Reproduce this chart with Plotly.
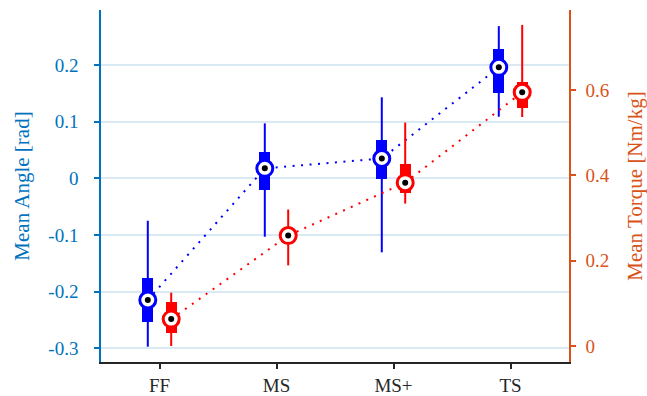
import plotly.graph_objects as go

# Conditions on the x axis
categories = ["FF", "MS", "MS+", "TS"]

# Mean joint angle [rad] per condition (left axis)
angle_median = [-0.2146, 0.0176, 0.035, 0.1958]
angle_q1 = [-0.253, -0.0206, -0.0007, 0.150]
angle_q3 = [-0.175, 0.047, 0.0675, 0.228]
angle_min = [-0.297, -0.103, -0.1305, 0.1087]
angle_max = [-0.0748, 0.097, 0.143, 0.2686]

# Mean joint torque [Nm/kg] per condition (right axis)
torque_median = [0.063, 0.259, 0.383, 0.595]
torque_q1 = [0.031, 0.245, 0.359, 0.558]
torque_q3 = [0.103, 0.272, 0.426, 0.618]
torque_min = [0.0, 0.189, 0.334, 0.537]
torque_max = [0.125, 0.320, 0.524, 0.753]

angle_ticks = [-0.3, -0.2, -0.1, 0, 0.1, 0.2]
angle_ticktext = ["-0.3", "-0.2", "-0.1", "0", "0.1", "0.2"]
torque_ticks = [0, 0.2, 0.4, 0.6]
torque_ticktext = ["0", "0.2", "0.4", "0.6"]

LEFT_COLOR = "#0072BD"
RIGHT_COLOR = "#D95319"
FONT = "Liberation Serif"

idx = list(range(len(categories)))
shift = 0.1
box_w = 0.095


def add_series(fig, med, q1, q3, lo, hi, color, dx, yaxis):
    xs = [i + dx for i in idx]
    # whiskers
    wx, wy = [], []
    for x, a, b in zip(xs, lo, hi):
        wx += [x, x, None]
        wy += [a, b, None]
    fig.add_trace(go.Scatter(x=wx, y=wy, mode="lines", yaxis=yaxis,
                             line=dict(color=color, width=2),
                             hoverinfo="skip", showlegend=False))
    # dotted line joining the medians
    fig.add_trace(go.Scatter(x=xs, y=med, mode="lines", yaxis=yaxis,
                             line=dict(color=color, width=2, dash="2px,6.5px"),
                             hoverinfo="skip", showlegend=False))
    # interquartile boxes
    fig.add_trace(go.Bar(x=xs, y=[b - a for a, b in zip(q1, q3)], base=q1,
                         width=box_w, yaxis=yaxis, marker=dict(color=color, line=dict(width=0)),
                         hoverinfo="skip", showlegend=False))
    # median markers: open circle with a black centre dot
    fig.add_trace(go.Scatter(x=xs, y=med, mode="markers", yaxis=yaxis,
                             marker=dict(size=16, color="white", line=dict(color=color, width=3)),
                             showlegend=False))
    fig.add_trace(go.Scatter(x=xs, y=med, mode="markers", yaxis=yaxis,
                             marker=dict(size=6, color="black"),
                             hoverinfo="skip", showlegend=False))


fig = go.Figure()
add_series(fig, angle_median, angle_q1, angle_q3, angle_min, angle_max, "#0000FF", -shift, "y")
add_series(fig, torque_median, torque_q1, torque_q3, torque_min, torque_max, "#FF0000", shift, "y2")

fig.update_layout(
    width=647, height=396,
    margin=dict(l=101, r=78, t=10, b=34, autoexpand=False),
    paper_bgcolor="white", plot_bgcolor="white",
    barmode="overlay", bargap=0,
    font=dict(family=FONT, size=19),
    xaxis=dict(
        range=[-0.5, 3.5], tickvals=idx, ticktext=categories,
        showline=True, linecolor="#262626", linewidth=1.5,
        ticks="outside", ticklen=5, tickcolor="#262626", tickwidth=1.5,
        tickfont=dict(color="#262626", size=19),
        showgrid=False, zeroline=False, automargin=False,
    ),
    yaxis=dict(
        range=[-0.324, 0.297], tickvals=angle_ticks, ticktext=angle_ticktext,
        showline=True, linecolor=LEFT_COLOR, linewidth=1.5,
        ticks="outside", ticklen=5, tickcolor=LEFT_COLOR, tickwidth=1.5,
        tickfont=dict(color=LEFT_COLOR, size=19),
        ticklabelstandoff=12,
        showgrid=True, gridcolor="rgba(0,114,189,0.15)", gridwidth=1.5,
        zeroline=False, automargin=False,
        title=dict(text="Mean Angle [rad]", font=dict(color=LEFT_COLOR, size=21), standoff=13),
    ),
    yaxis2=dict(
        range=[-0.0376, 0.788], tickvals=torque_ticks, ticktext=torque_ticktext,
        overlaying="y", side="right",
        showline=True, linecolor=RIGHT_COLOR, linewidth=1.5,
        ticks="outside", ticklen=5, tickcolor=RIGHT_COLOR, tickwidth=1.5,
        tickfont=dict(color=RIGHT_COLOR, size=19),
        ticklabelstandoff=6,
        showgrid=False, zeroline=False, automargin=False,
        title=dict(text="Mean Torque [Nm/kg]", font=dict(color=RIGHT_COLOR, size=21), standoff=22),
    ),
)

fig.write_html("out.html")
